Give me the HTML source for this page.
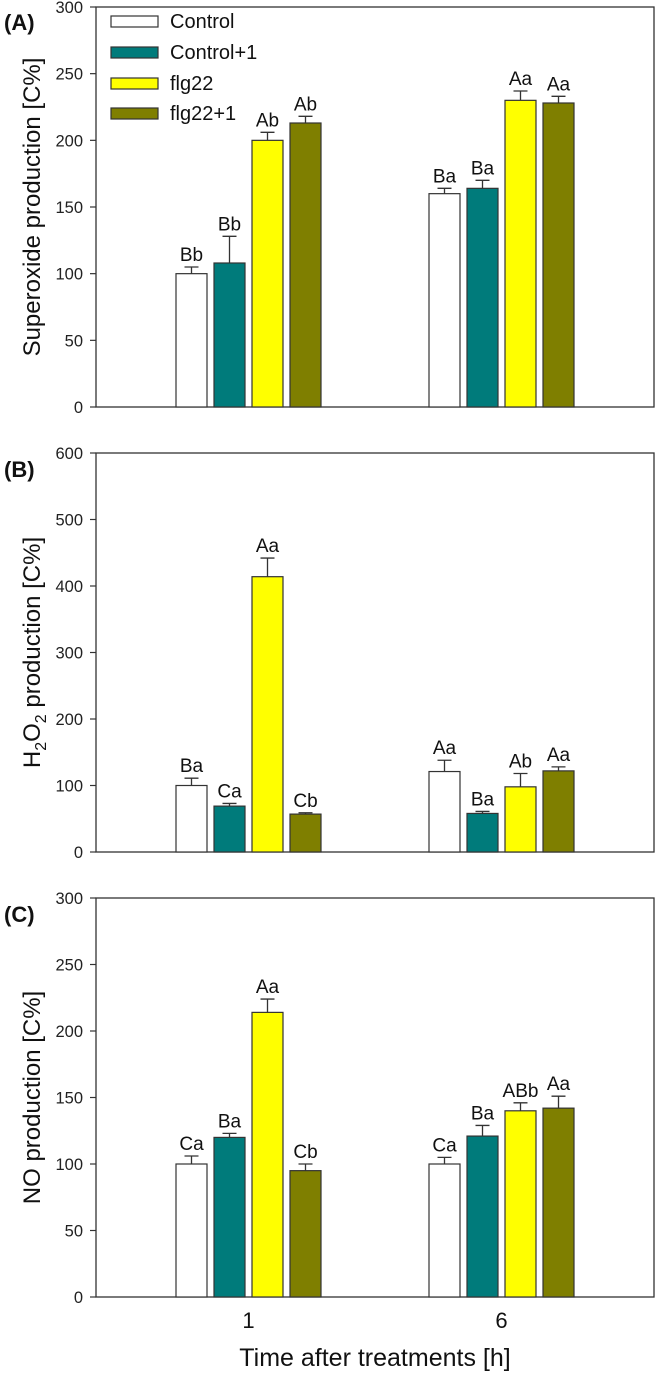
<!DOCTYPE html>
<html><head><meta charset="utf-8"><style>
html,body{margin:0;padding:0;background:#fff}
svg{display:block;font-family:"Liberation Sans",Arial,sans-serif}
</style></head><body>
<svg id="chart" width="656" height="1373" viewBox="0 0 656 1373" xmlns="http://www.w3.org/2000/svg"></svg>
<script>
const categories = ["1","6"];
const seriesNames = ["Control","Control+1","flg22","flg22+1"];
const seriesColors = ["#ffffff","#007b7b","#ffff00","#7f7f00"];
const panelLabels = ["(A)","(B)","(C)"];
const yTitles = ["Superoxide production [C%]","H2O2 production [C%]","NO production [C%]"];
const yMax = [300,600,300];
const yStep = [50,100,50];
const valuesA = [[100,160],[108,164],[200,230],[213,228]];
const errorsA = [[5,4],[20,6],[6,7],[5,5]];
const lettersA = [["Bb","Ba"],["Bb","Ba"],["Ab","Aa"],["Ab","Aa"]];
const valuesB = [[100,121],[69,58],[414,98],[57,122]];
const errorsB = [[11,17],[4,3],[28,20],[2,6]];
const lettersB = [["Ba","Aa"],["Ca","Ba"],["Aa","Ab"],["Cb","Aa"]];
const valuesC = [[100,100],[120,121],[214,140],[95,142]];
const errorsC = [[6,5],[3,8],[10,6],[5,9]];
const lettersC = [["Ca","Ca"],["Ba","Ba"],["Aa","ABb"],["Cb","Aa"]];
const panelValues = [valuesA,valuesB,valuesC];
const panelErrors = [errorsA,errorsB,errorsC];
const panelLetters = [lettersA,lettersB,lettersC];

const NS="http://www.w3.org/2000/svg";
const svg=document.getElementById('chart');
function mk(tag,attrs,parent){const e=document.createElementNS(NS,tag);for(const k in attrs)e.setAttribute(k,attrs[k]);(parent||svg).appendChild(e);return e;}
const L=96,R=654;
const tops=[7,453,898], bottoms=[407,852,1297];
const groupCenters=[248.5,501.5];
const barW=31, barStep=38;
function xBar(ci,si){return groupCenters[ci]+(si-1.5)*barStep-barW/2;}

for(let p=0;p<3;p++){
  const top=tops[p],bot=bottoms[p];
  const y=v=>bot-(v/yMax[p])*(bot-top);
  const g=mk('g',{});
  
  
  const frame=mk('rect',{x:L,y:top,width:R-L,height:bot-top,fill:'none',stroke:'#333','stroke-width':1.3},g);
  
  
  for(let v=0;v<=yMax[p];v+=yStep[p]){
    const t=mk('line',{x1:L-6,x2:L,y1:y(v),y2:y(v),stroke:'#333','stroke-width':1.2},g);
    
    
    const tl=mk('text',{x:L-13,y:y(v)+6,'text-anchor':'end','font-size':16.5,fill:'#222'},g);
    tl.textContent=v;
    
    
  }
  const pl=mk('text',{x:4,y:top+(p==0?23:24),'font-size':22,'font-weight':'bold',fill:'#111'},g);
  pl.textContent=panelLabels[p];
  
  
  const cy=(top+bot)/2;
  const yt=mk('text',{x:0,y:0,'text-anchor':'middle','font-size':24,fill:'#111',transform:`translate(40,${cy}) rotate(-90)`},g);
  
  
  if(p==1){
    yt.appendChild(document.createTextNode('H'));
    const s1=mk('tspan',{'font-size':16,dy:6},yt);s1.textContent='2';
    const s2=mk('tspan',{dy:-6},yt);s2.textContent='O';
    const s3=mk('tspan',{'font-size':16,dy:6},yt);s3.textContent='2';
    const s4=mk('tspan',{dy:-6},yt);s4.textContent=' production [C%]';
  } else yt.textContent=yTitles[p];
  const vals=panelValues[p],errs=panelErrors[p],lets=panelLetters[p];
  for(let s=0;s<4;s++){
    for(let c=0;c<2;c++){
      const x=xBar(c,s),v=vals[s][c],e=errs[s][c];
      const b=mk('rect',{x:x,y:y(v),width:barW,height:bot-y(v),fill:seriesColors[s],stroke:'#333','stroke-width':1.2},g);
      
      
      const cx=x+barW/2;
      const el=mk('path',{d:`M${cx},${y(v)}V${y(v+e)}M${cx-7},${y(v+e)}H${cx+7}`,stroke:'#333','stroke-width':1.3,fill:'none'},g);
      
      
      const lt=mk('text',{x:cx,y:y(v+e)-6,'text-anchor':'middle','font-size':19,fill:'#111'},g);
      lt.textContent=lets[s][c];
      
      
    }
  }
}
for(let c=0;c<2;c++){
  const t=mk('text',{x:groupCenters[c],y:1328,'text-anchor':'middle','font-size':22,fill:'#111'});
  t.textContent=categories[c];
  
  
}
const xt=mk('text',{x:375,y:1366,'text-anchor':'middle','font-size':25,fill:'#111'});
xt.textContent='Time after treatments [h]';


const legendY=[21,52,83,113];
for(let s=0;s<4;s++){
  const g=mk('g',{});
  
  
  const r=mk('rect',{x:111,y:legendY[s]-5,width:47,height:11,fill:seriesColors[s],stroke:'#333','stroke-width':1.2},g);
  
  
  const t=mk('text',{x:170,y:legendY[s]+7,'font-size':20,fill:'#111'},g);
  t.textContent=seriesNames[s];
  
  
}
</script>
</body></html>
